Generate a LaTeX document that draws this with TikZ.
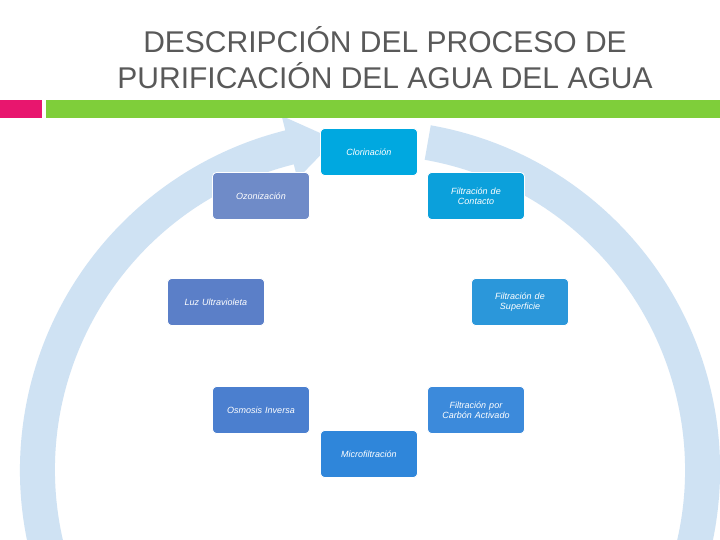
\documentclass[tikz,border=0pt]{standalone}
\usepackage{fontspec}
\setmainfont{Liberation Sans}
\usetikzlibrary{calc}
\definecolor{ringblue}{HTML}{CFE2F3}
\definecolor{titlegray}{HTML}{595959}
\definecolor{barpink}{HTML}{E8166E}
\definecolor{bargreen}{HTML}{7FCE3A}
\tikzset{
    stepbox/.style={draw=white, line width=0.8pt, rounded corners=4pt, minimum width=97pt, minimum height=47pt,
        text width=90pt, align=center, text=white, font=\fontsize{9}{10}\selectfont\itshape},
}
\begin{document}
\begin{tikzpicture}[x=1pt,y=1pt]

    \useasboundingbox (0,0) rectangle (720,540);
    \fill[white] (0,0) rectangle (720,540);

    % ring
    \fill[ringblue] (370,70) ++(80:350) arc[start angle=80, end angle=-256, radius=350]
        -- ($(370,70)+(104:365)$) -- ($(370,70)+(96:332)$) -- ($(370,70)+(104:300)$)
        -- ($(370,70)+(104:315)$) arc[start angle=-256, end angle=80, radius=315] -- cycle;

    % title
    \node[text=titlegray, font=\fontsize{30}{36}\selectfont, align=center] (title) at (385,482)
        {DESCRIPCIÓN DEL PROCESO DE\\PURIFICACIÓN DEL AGUA DEL AGUA};
    \fill[barpink] (0,422) rectangle (42,440);
    \fill[bargreen] (46,422) rectangle (720,440);

    % steps
    \node[stepbox, fill={rgb,255:red,0;green,168;blue,224}] (clorinacion) at (369,388) {Clorinación};
    \node[stepbox, fill={rgb,255:red,111;green,139;blue,200}] (ozonizacion) at (261,344) {Ozonización};
    \node[stepbox, fill={rgb,255:red,11;green,160;blue,219}] (contacto) at (476,344) {Filtración de\\Contacto};
    \node[stepbox, fill={rgb,255:red,91;green,127;blue,200}] (ultravioleta) at (216,238) {Luz Ultravioleta};
    \node[stepbox, fill={rgb,255:red,43;green,151;blue,218}] (superficie) at (520,238) {Filtración de\\Superficie};
    \node[stepbox, fill={rgb,255:red,75;green,127;blue,207}] (osmosis) at (261,130) {Osmosis Inversa};
    \node[stepbox, fill={rgb,255:red,60;green,138;blue,219}] (carbon) at (476,130) {Filtración por\\Carbón Activado};
    \node[stepbox, fill={rgb,255:red,47;green,134;blue,218}] (micro) at (369,86) {Microfiltración};

\end{tikzpicture}
\end{document}
